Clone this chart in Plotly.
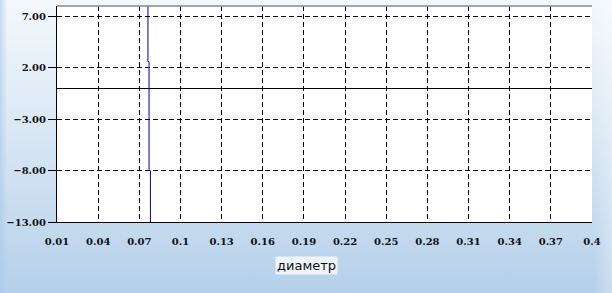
import base64
import plotly.graph_objects as go

# data
diam = [0.0763, 0.0763, 0.0771, 0.0771, 0.0781, 0.0781]
vals = [40.0, 2.6, 2.6, -8.0, -8.0, -40.0]
x_ticks = [0.01, 0.04, 0.07, 0.1, 0.13, 0.16, 0.19, 0.22, 0.25, 0.28, 0.31, 0.34, 0.37, 0.4]
x_labels = ["0.01", "0.04", "0.07", "0.1", "0.13", "0.16", "0.19", "0.22", "0.25", "0.28", "0.31", "0.34", "0.37", "0.4"]
y_ticks = [7, 2, -3, -8, -13]
x_title = "диаметр"

W, H = 612, 293
L, R, T, B = 57, 20, 6, 71
pw, ph = W - L - R, H - T - B

svg = f'''<svg xmlns="http://www.w3.org/2000/svg" width="{W}" height="{H}" preserveAspectRatio="none">
<defs>
<linearGradient id="g" x1="0" y1="0" x2="0" y2="1">
<stop offset="0" stop-color="#f3f8fc"/>
<stop offset="0.45" stop-color="#d9e7f4"/>
<stop offset="1" stop-color="#b5d0ea"/>
</linearGradient>
<linearGradient id="h" x1="0" y1="0" x2="1" y2="0">
<stop offset="0" stop-color="#a8c8e8" stop-opacity="0.6"/>
<stop offset="0.012" stop-color="#a8c8e8" stop-opacity="0"/>
<stop offset="0.97" stop-color="#ffffff" stop-opacity="0"/>
<stop offset="1" stop-color="#ffffff" stop-opacity="0.3"/>
</linearGradient>
</defs>
<rect width="{W}" height="{H}" fill="url(#g)"/>
<rect width="{W}" height="{H}" fill="url(#h)"/>
</svg>'''
src = "data:image/svg+xml;base64," + base64.b64encode(svg.encode()).decode()

fig = go.Figure()
fig.add_trace(go.Scatter(x=diam, y=vals, mode="lines",
                         line=dict(color="#000099", width=1),
                         showlegend=False, hoverinfo="skip"))

tickfont = dict(family="DejaVu Serif", size=10, color="#111111", weight="bold")
dash = "5px,3px"

fig.update_layout(
    width=W, height=H,
    margin=dict(l=L, r=R, t=T, b=B),
    paper_bgcolor="#d6e6f4",
    plot_bgcolor="#ffffff",
    images=[dict(source=src, xref="paper", yref="paper",
                 x=-L / pw, y=1 + T / ph, sizex=W / pw, sizey=H / ph,
                 xanchor="left", yanchor="top", sizing="stretch", layer="below")],
    xaxis=dict(range=[0.01, 0.4], tickvals=x_ticks, ticktext=x_labels,
               showgrid=True, gridcolor="#000000", griddash=dash, gridwidth=1,
               showline=True, linecolor="#000000", linewidth=1,
               zeroline=False, ticks="", tickfont=tickfont, ticklabelstandoff=10),
    yaxis=dict(range=[-13, 8], tickvals=y_ticks, tickformat=".2f",
               showgrid=True, gridcolor="#000000", griddash=dash, gridwidth=1,
               showline=True, linecolor="#000000", linewidth=1,
               zeroline=True, zerolinecolor="#000000", zerolinewidth=1,
               ticks="outside", ticklen=8, tickcolor="#000000",
               tickfont=tickfont),
    shapes=[
        dict(type="rect", xref="x", yref="y", x0=0.01, x1=0.4, y0=-13, y1=8,
             fillcolor="#ffffff", line=dict(width=0), layer="below"),
        dict(type="line", xref="paper", yref="paper", x0=0, x1=1, y0=1, y1=1,
             line=dict(color="#888888", width=1.5)),
    ],
    annotations=[dict(text=x_title, xref="paper", yref="paper",
                      x=(306 - L) / pw, y=-(265 - T - ph) / ph,
                      showarrow=False, xanchor="center", yanchor="middle",
                      font=dict(family="DejaVu Sans", size=13, color="#111111"),
                      bgcolor="#eef4fa", borderpad=1)],
)

fig.write_html("out.html")
